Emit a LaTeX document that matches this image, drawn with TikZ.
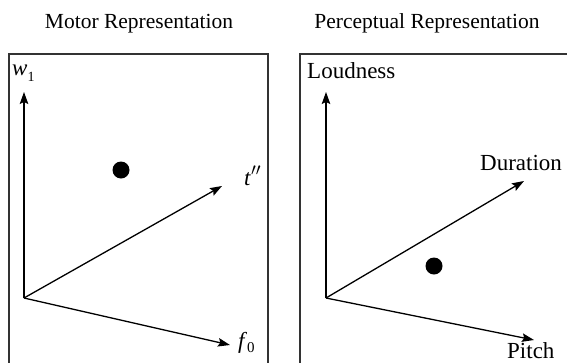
\documentclass[tikz,border=0pt]{standalone}
\usepackage{fontspec}
\setmainfont{Liberation Serif}
\usetikzlibrary{arrows.meta}
\tikzset{
  axis/.style={line width=1.3pt,-{Stealth[length=12pt,width=8.5pt,inset=2pt]}},
  panel/.style={line width=1.1pt,draw=black!80},
  ptdot/.style={circle,fill=black,inner sep=0pt,minimum size=17pt},
  ttl/.style={inner sep=0pt,anchor=base,font=\fontsize{21.5}{24}\selectfont},
  lbl/.style={inner sep=0pt,anchor=base west,font=\fontsize{23}{26}\selectfont},
}
\begin{document}
\begin{tikzpicture}[x=1pt,y=-1pt]
\useasboundingbox (0,0) rectangle (567,362);
% panels
\draw[panel] (9,380) -- (9,54) -- (268,54) -- (268,380);
\draw[panel] (300,380) -- (300,54) -- (590,54);
% titles
\node[ttl] (t1) at (139,28) {Motor Representation};
\node[ttl] (t2) at (427,28) {Perceptual Representation};
% left axes
\coordinate (o1) at (24,298);
\coordinate (w1) at (24,92);
\coordinate (tp) at (222,186);
\coordinate (f0) at (230,345);
\draw[axis] (o1) -- (w1);
\draw[axis] (o1) -- (tp);
\draw[axis] (o1) -- (f0);
\node[lbl] (lw) at (12,75) {\textit{w}\raisebox{-6pt}{\fontsize{14}{14}\selectfont 1}};
\node[lbl] (lt) at (244,185) {\textit{t}$^{\prime\prime}$};
\node[lbl] (lf) at (238,348) {\textit{f}\raisebox{-4pt}{\fontsize{15}{15}\selectfont 0}};
\node[ptdot] (d1) at (121,170) {};
% right axes
\coordinate (o2) at (326,298);
\coordinate (ld) at (326,92);
\coordinate (du) at (524,181);
\coordinate (pi) at (534,340);
\draw[axis] (o2) -- (ld);
\draw[axis] (o2) -- (du);
\draw[axis] (o2) -- (pi);
\node[lbl] (ll) at (307,78) {Loudness};
\node[lbl] (lD) at (480,170) {Duration};
\node[lbl] (lP) at (507,358) {Pitch};
\node[ptdot] (d2) at (434,266) {};
\end{tikzpicture}
\end{document}
